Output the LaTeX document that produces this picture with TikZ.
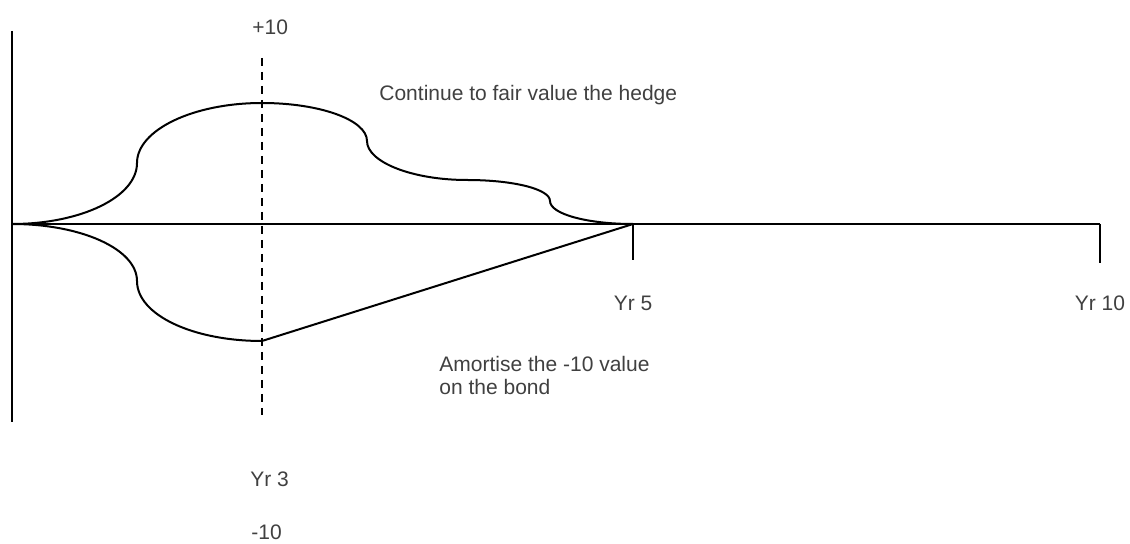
\documentclass[tikz,border=0pt]{standalone}
\usepackage{fontspec}
\setmainfont{Liberation Sans}
\usepackage{tikz}
\definecolor{txtcol}{RGB}{64, 64, 64}

\begin{document}
\begin{tikzpicture}[
  x=0.5pt, y=-0.5pt,
  axisline/.style={line width=1pt,black},
  curveline/.style={line width=1pt,black},
  guide/.style={line width=1pt,black,dash pattern=on 4pt off 3pt},
  lbl/.style={text=txtcol,inner sep=0pt,font=\fontsize{10.5}{11.5}\selectfont},
]
  \useasboundingbox (0,0) rectangle (1130,544);

  % --- key points ---
  \coordinate (O)    at (12,224);
  \coordinate (ytop) at (12,31);
  \coordinate (ybot) at (12,422);
  \coordinate (yr5)  at (633,224);
  \coordinate (yr10) at (1100,224);
  \coordinate (top)  at (262,103);
  \coordinate (low)  at (262,341);

  % --- axes ---
  \draw[axisline] (ytop) -- (ybot);
  \draw[axisline] (O) -- (yr10);
  \draw[axisline] (yr5) -- ++(0,36);
  \draw[axisline] (yr10) -- ++(0,39);

  % --- year 3 marker ---
  \draw[guide] (262,58) -- (262,415);

  % --- hedge fair value ---
  \draw[curveline] (O) .. controls (81,224) and (137,197) .. (137,163)
    .. controls (137,130) and (193,103) .. (top)
    .. controls (320,103) and (367,120) .. (367,141)
    .. controls (367,162) and (412,180) .. (467,180)
    .. controls (513,180) and (550,189) .. (550,201)
    .. controls (550,214) and (587,224) .. (yr5);

  % --- bond value ---
  \draw[curveline] (O) .. controls (81,224) and (137,249) .. (137,281)
    .. controls (137,315) and (193,341) .. (low) -- (yr5);

  % --- labels ---
  \node[lbl,anchor=west] (plus)  at (252,27)  {+10};
  \node[lbl,anchor=west] (hedge) at (379,95)  {Continue to fair value the hedge};
  \node[lbl,anchor=west,align=left] (amort) at (439,375.5) {Amortise the -10 value\\on the bond};
  \node[lbl] (lyr5)  at (633,303) {Yr 5};
  \node[lbl] (lyr10) at (1100,303) {Yr 10};
  \node[lbl,anchor=west] (lyr3)  at (250,479) {Yr 3};
  \node[lbl,anchor=west] (minus) at (251,532) {-10};

\end{tikzpicture}
\end{document}
